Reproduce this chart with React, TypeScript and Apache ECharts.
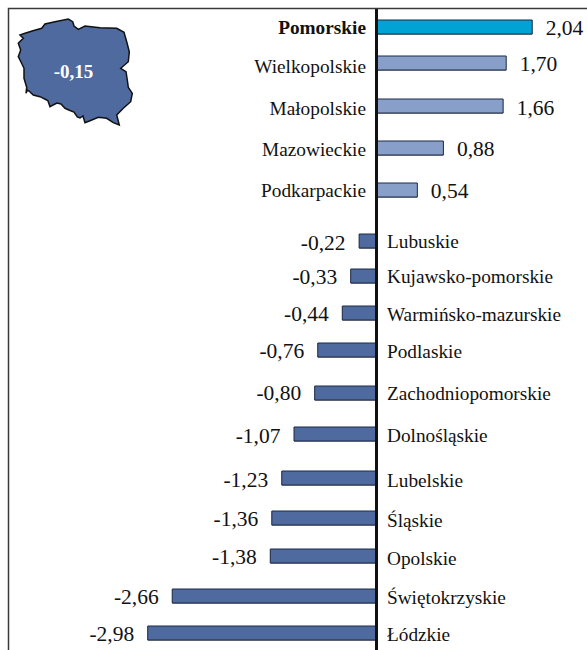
import React, { useEffect, useRef } from "react";
import * as echarts from "echarts";

const regions = ["Pomorskie","Wielkopolskie","Małopolskie","Mazowieckie","Podkarpackie","Lubuskie","Kujawsko-pomorskie","Warmińsko-mazurskie","Podlaskie","Zachodniopomorskie","Dolnośląskie","Lubelskie","Śląskie","Opolskie","Świętokrzyskie","Łódzkie"];
const values = [2.04,1.70,1.66,0.88,0.54,-0.22,-0.33,-0.44,-0.76,-0.80,-1.07,-1.23,-1.36,-1.38,-2.66,-2.98];
const valueLabels = ["2,04","1,70","1,66","0,88","0,54","-0,22","-0,33","-0,44","-0,76","-0,80","-1,07","-1,23","-1,36","-1,38","-2,66","-2,98"];
const nationalLabel = "-0,15";

// Vertical placement of each row on the chart's hidden y scale (the reference spaces rows unevenly).
const rowPlace = [27,63,106,148,190,241,276,313,350,393,434,478,518,556,596,633];
const regionLabelNudge = [0,3,2,1,0,0,0,1,1,0,1,2,2,2,1,1];
const valueLabelNudge = [1,1,2,1,1,2,1,1,1,0,2,2,1,1,1,1];

const polandOutline: number[][] = [[20,35],[25,33.3],[33,30.7],[41.7,28.3],[45,24],[55,21.7],[68.3,19],[72.7,21.7],[74,26],[78.3,29.3],[85,26],[100,27.7],[116.7,28.3],[124,32.3],[126.7,41.7],[129.3,51.7],[128.3,61.7],[120.7,68.3],[126,71.7],[127.3,80],[128.3,87.3],[132.3,93.3],[130.7,101.7],[123.3,108.3],[116.7,115],[119.3,125],[113.3,122.7],[106.7,118.3],[98.3,117.3],[90,120.7],[85,122.7],[83,116],[80,118],[77.3,117],[74,112],[70,110.5],[65,108.3],[61,104],[57,103],[55,104],[50,106.7],[48,101],[46.7,100],[40,96.7],[33.3,95],[29,91],[27.3,90],[26,93.3],[26.7,87.3],[24,78.3],[24,68.3],[21,62],[18.3,56.7],[20.7,50],[18.3,43.3],[23.3,38.3]];

const barDark = "#4f6a9f";
const barLight = "#88a0c9";
const barTop = "#00a3d4";
const serif = '"Liberation Serif", "Times New Roman", serif';

export default function App() {
  const ref = useRef<HTMLDivElement>(null);
  useEffect(() => {
    const chart = echarts.init(ref.current!, undefined, { renderer: "svg" });
    const rows = values.map((v, i) => [v, rowPlace[i], i]);
    chart.setOption({
      animation: false,
      backgroundColor: "#ffffff",
      grid: { left: 8, right: 0, top: 8, bottom: 0 },
      xAxis: { type: "value", min: -4.804, max: 2.755, show: false },
      yAxis: { type: "value", min: 8, max: 650, inverse: true, show: false },
      series: [
        {
          type: "custom",
          coordinateSystem: "cartesian2d",
          clip: false,
          data: rows,
          encode: { x: 0, y: 1 },
          renderItem: (_p: any, api: any) => {
            const v = api.value(0) as number;
            const i = api.value(2) as number;
            const zero = api.coord([0, api.value(1)]);
            const end = api.coord([v, api.value(1)]);
            const h = 14;
            const fill = i === 0 ? barTop : v > 0 ? barLight : barDark;
            const left = Math.min(zero[0], end[0]);
            const w = Math.abs(end[0] - zero[0]);
            return {
              type: "group",
              children: [
                { type: "rect", shape: { x: left, y: zero[1] - h / 2 + 1, width: w, height: h }, style: { fill: "#9a9a9a" } },
                { type: "rect", shape: { x: left, y: zero[1] - h / 2, width: w, height: h }, style: { fill, stroke: "#1c2a44", lineWidth: 1 } },
                {
                  type: "text",
                  style: {
                    text: valueLabels[i],
                    x: v > 0 ? end[0] + 13.5 : end[0] - 13.5,
                    y: zero[1] + valueLabelNudge[i],
                    align: v > 0 ? "left" : "right",
                    verticalAlign: "middle",
                    font: `21.5px ${serif}`,
                    fill: "#111111",
                  },
                },
                {
                  type: "text",
                  style: {
                    text: regions[i],
                    x: v > 0 ? zero[0] - 10 : zero[0] + 11,
                    y: zero[1] + regionLabelNudge[i],
                    align: v > 0 ? "right" : "left",
                    verticalAlign: "middle",
                    font: `${i === 0 ? "bold " : ""}19.3px ${serif}`,
                    fill: "#111111",
                  },
                },
              ],
            };
          },
          markLine: {
            silent: true,
            symbol: "none",
            label: { show: false },
            lineStyle: { color: "#111111", width: 3, type: "solid" },
            data: [{ xAxis: 0 }],
          },
        },
      ],
      graphic: [
        { type: "polyline", shape: { points: [[8.5, 650], [8.5, 8.5], [587, 8.5]] }, style: { fill: "none", stroke: "#3a3a3a", lineWidth: 1.5 }, z: 9 },
        { type: "polygon", shape: { points: polandOutline }, style: { fill: barDark, stroke: "#111111", lineWidth: 1.5 }, z: 10 },
        { type: "text", style: { text: nationalLabel, x: 73.5, y: 71, align: "center", verticalAlign: "middle", font: `bold 19px ${serif}`, fill: "#ffffff" }, z: 11 },
      ],
    });
    return () => chart.dispose();
  }, []);
  return <div ref={ref} style={{ position: "fixed", left: 0, top: 0, width: 587, height: 650 }} />;
}
